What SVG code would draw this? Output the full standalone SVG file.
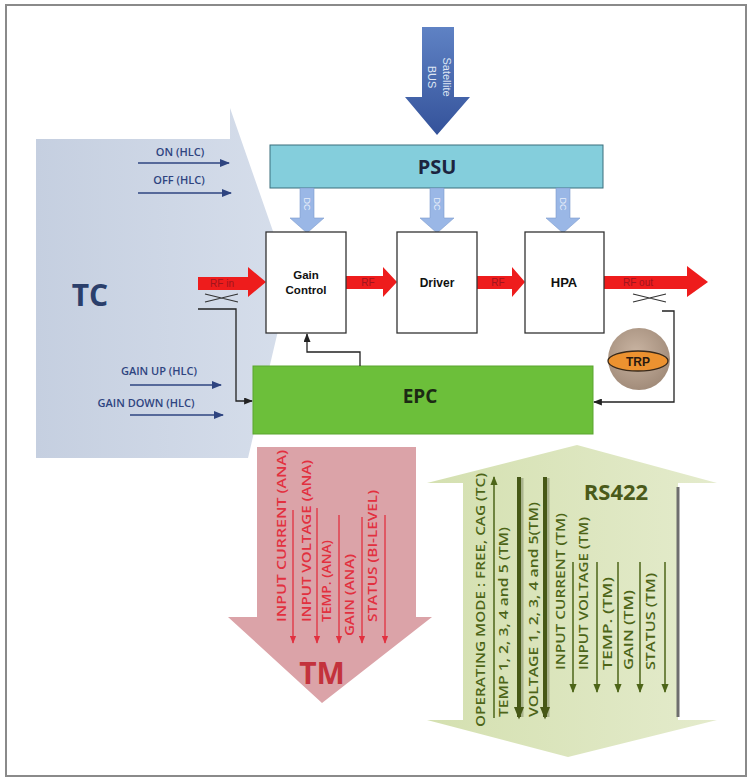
<svg xmlns="http://www.w3.org/2000/svg" width="749" height="782" viewBox="0 0 749 782">
<defs>
<style>
.tc{font-family:"Open Sans","Liberation Sans",sans-serif;font-weight:600;font-size:11px;fill:#2e4480}
.box{fill:#fff;stroke:#333;stroke-width:1.3}
.bl{font-family:"Liberation Sans",Arial,sans-serif;font-weight:bold;fill:#111;text-anchor:middle}
.rf{font-family:"Liberation Sans",Arial,sans-serif;font-size:10px;fill:#a0141c}
.tm{font-family:"Open Sans","Liberation Sans",sans-serif;font-weight:600;font-size:12px;fill:#e2303f}
.rs{font-family:"Open Sans","Liberation Sans",sans-serif;font-weight:600;font-size:12.5px;fill:#4d6518}
.dc{font-family:"Liberation Sans",Arial,sans-serif;font-size:9px;fill:#e8eefa}
.ln{fill:none;stroke:#222;stroke-width:1.3}
.navy{stroke:#2e4480;stroke-width:1.5;fill:none}
.tml{stroke:#e2303f;stroke-width:1.3;fill:none}
.rsl{stroke:#4d6518;stroke-width:1.5;fill:none}
.rsk{stroke:#465816;stroke-width:4;fill:none}
</style>
<marker id="mNavy" viewBox="0 0 10 8" refX="9" refY="4" markerWidth="10" markerHeight="8" markerUnits="userSpaceOnUse" orient="auto"><path d="M0,0 L10,4 L0,8 z" fill="#2e4480"/></marker>
<marker id="mBlk" viewBox="0 0 10 8" refX="9" refY="4" markerWidth="9" markerHeight="7" markerUnits="userSpaceOnUse" orient="auto"><path d="M0,0 L10,4 L0,8 z" fill="#222"/></marker>
<marker id="mRed" viewBox="0 0 10 8" refX="9" refY="4" markerWidth="8" markerHeight="7" markerUnits="userSpaceOnUse" orient="auto"><path d="M0,0 L10,4 L0,8 z" fill="#e2303f"/></marker>
<marker id="mOl" viewBox="0 0 10 8" refX="9" refY="4" markerWidth="9" markerHeight="8" markerUnits="userSpaceOnUse" orient="auto"><path d="M0,0 L10,4 L0,8 z" fill="#4d6518"/></marker>
<marker id="mOlK" viewBox="0 0 10 8" refX="8" refY="4" markerWidth="13" markerHeight="11" markerUnits="userSpaceOnUse" orient="auto"><path d="M0,0 L10,4 L0,8 z" fill="#465816"/></marker>
<linearGradient id="gBus" x1="0" y1="0" x2="0" y2="1"><stop offset="0" stop-color="#5f82c4"/><stop offset="1" stop-color="#34529a"/></linearGradient>
<linearGradient id="gTC" x1="0" y1="0" x2="1" y2="0"><stop offset="0" stop-color="#c5cfe0"/><stop offset="1" stop-color="#d6deeb"/></linearGradient>
<linearGradient id="gRS" x1="0" y1="0" x2="1" y2="0"><stop offset="0" stop-color="#d4e0b0"/><stop offset="1" stop-color="#e4ebcc"/></linearGradient>
<radialGradient id="gTRP" cx="0.45" cy="0.4" r="0.6"><stop offset="0" stop-color="#c9b4a2"/><stop offset="1" stop-color="#a28c7a"/></radialGradient>
</defs>
<rect x="0" y="0" width="749" height="782" fill="#fff"/>
<rect x="6" y="5" width="740" height="771" fill="none" stroke="#8a8a8a" stroke-width="2"/>

<!-- TC big arrow -->
<g id="tc">
<polygon points="36,139 230,139 230,108 290,280 248,458 36,458" fill="url(#gTC)"/>
<text x="90" y="306" font-family="Open Sans,Liberation Sans,sans-serif" font-weight="bold" font-size="30" fill="#2b3f6b" text-anchor="middle">TC</text>
<text class="tc" x="180" y="156" text-anchor="middle">ON (HLC)</text>
<text class="tc" x="179" y="184" text-anchor="middle">OFF (HLC)</text>
<text class="tc" x="159" y="375" text-anchor="middle">GAIN UP (HLC)</text>
<text class="tc" x="146" y="407" text-anchor="middle">GAIN DOWN (HLC)</text>
</g>

<!-- Satellite BUS -->
<g id="bus">
<polygon points="422,27 454,27 454,97 470,97 437,135 405,97 422,97" fill="url(#gBus)"/>
<text x="443" y="77" transform="rotate(90 443 77)" font-family="Liberation Sans,Arial,sans-serif" font-size="11" fill="#dfe6f4" text-anchor="middle">Satellite</text>
<text x="428" y="77" transform="rotate(90 428 77)" font-family="Liberation Sans,Arial,sans-serif" font-size="11" fill="#dfe6f4" text-anchor="middle">BUS</text>
</g>

<!-- PSU -->
<g id="psu">
<rect x="270" y="145" width="333" height="43" fill="#84cedc" stroke="#3b6f7c" stroke-width="1"/>
<text x="437" y="174" font-family="Open Sans,Liberation Sans,sans-serif" font-weight="bold" font-size="20" fill="#1c2440" text-anchor="middle">PSU</text>
</g>

<!-- DC arrows -->
<g id="dc">
<polygon points="300,188 314,188 314,218 324,218 307,233 290,218 300,218" fill="#9ab7e6" stroke="#7d9ccf" stroke-width="0.6"/>
<polygon points="430,188 444,188 444,218 454,218 437,233 420,218 430,218" fill="#9ab7e6" stroke="#7d9ccf" stroke-width="0.6"/>
<polygon points="556,188 570,188 570,218 580,218 563,233 546,218 556,218" fill="#9ab7e6" stroke="#7d9ccf" stroke-width="0.6"/>
<text class="dc" x="304" y="204" transform="rotate(90 304 204)" text-anchor="middle">DC</text>
<text class="dc" x="434" y="204" transform="rotate(90 434 204)" text-anchor="middle">DC</text>
<text class="dc" x="560" y="204" transform="rotate(90 560 204)" text-anchor="middle">DC</text>
</g>

<!-- RF arrows -->
<g id="rf">
<polygon points="198,277 248,277 248,267 266,282 248,297 248,290 198,290" fill="#ee1c1c"/>
<text class="rf" x="222" y="287" text-anchor="middle">RF in</text>
<polygon points="346,276 383,276 383,267 397,282 383,297 383,289 346,289" fill="#ee1c1c"/>
<text class="rf" x="368" y="286" text-anchor="middle">RF</text>
<polygon points="477,276 512,276 512,267 525,282 512,297 512,289 477,289" fill="#ee1c1c"/>
<text class="rf" x="498" y="286" text-anchor="middle">RF</text>
<polygon points="604,276 687,276 687,266 708,282 687,297 687,289 604,289" fill="#ee1c1c"/>
<text class="rf" x="638" y="286" text-anchor="middle">RF out</text>
<path d="M205,294 L238,302 M205,302 L238,294" stroke="#333" stroke-width="1.2" fill="none"/>
<path d="M633,294 L666,302 M633,302 L666,294" stroke="#333" stroke-width="1.2" fill="none"/>
</g>

<!-- blocks -->
<g id="gain-control">
<rect class="box" x="266" y="232" width="80" height="101"/>
<text class="bl" x="306" y="279" font-size="11.5">Gain</text>
<text class="bl" x="306" y="294" font-size="11.5">Control</text>
</g>
<g id="driver">
<rect class="box" x="397" y="232" width="80" height="101"/>
<text class="bl" x="437" y="287" font-size="12">Driver</text>
</g>
<g id="hpa">
<rect class="box" x="525" y="232" width="79" height="101"/>
<text class="bl" x="564" y="287" font-size="13">HPA</text>
</g>
<g id="epc">
<rect x="253" y="366" width="340" height="68" fill="#6cbf3a" stroke="#5aa52e" stroke-width="1"/>
<text x="420" y="403" font-family="Open Sans,Liberation Sans,sans-serif" font-weight="bold" font-size="19" fill="#1c2a14" text-anchor="middle">EPC</text>
</g>
<g id="trp">
<circle cx="639" cy="359" r="31" fill="url(#gTRP)"/>
<ellipse cx="638" cy="361" rx="30" ry="10" fill="#ec9230" stroke="#3a2a1a" stroke-width="1.3"/>
<text x="638" y="366" font-family="Liberation Sans,Arial,sans-serif" font-weight="bold" font-size="12" fill="#2a1a10" text-anchor="middle">TRP</text>
</g>

<!-- connectors -->
<g id="connectors">
<line class="navy" x1="138" y1="163" x2="229" y2="163" marker-end="url(#mNavy)"/>
<line class="navy" x1="138" y1="193" x2="231" y2="193" marker-end="url(#mNavy)"/>
<line class="navy" x1="130" y1="385" x2="221" y2="385" marker-end="url(#mNavy)"/>
<line class="navy" x1="130" y1="415" x2="223" y2="415" marker-end="url(#mNavy)"/>
<polyline class="ln" points="198,309 236,309 236,401 252,401" marker-end="url(#mBlk)"/>
<polyline class="ln" points="360,366 360,352 307,352 307,334" marker-end="url(#mBlk)"/>
<polyline class="ln" points="662,311 674,311 674,402 594,402" marker-end="url(#mBlk)"/>
</g>

<!-- TM arrow -->
<g id="tm">
<polygon points="257,447 416,447 416,617 432,617 322,703 228,617 257,617" fill="#dba3a8"/>
<text class="tm" transform="translate(286,622) rotate(-90)" textLength="172" lengthAdjust="spacingAndGlyphs">INPUT CURRENT (ANA)</text>
<text class="tm" transform="translate(311,622) rotate(-90)" textLength="162" lengthAdjust="spacingAndGlyphs">INPUT VOLTAGE (ANA)</text>
<text class="tm" transform="translate(331,622) rotate(-90)" textLength="82" lengthAdjust="spacingAndGlyphs">TEMP. (ANA)</text>
<text class="tm" transform="translate(354,636) rotate(-90)" textLength="82" lengthAdjust="spacingAndGlyphs">GAIN (ANA)</text>
<text class="tm" transform="translate(377,622) rotate(-90)" textLength="132" lengthAdjust="spacingAndGlyphs">STATUS (BI-LEVEL)</text>
<line class="tml" x1="293" y1="510" x2="293" y2="643" marker-end="url(#mRed)"/>
<line class="tml" x1="317" y1="508" x2="317" y2="643" marker-end="url(#mRed)"/>
<line class="tml" x1="339" y1="515" x2="339" y2="643" marker-end="url(#mRed)"/>
<line class="tml" x1="362" y1="517" x2="362" y2="643" marker-end="url(#mRed)"/>
<line class="tml" x1="385" y1="515" x2="385" y2="643" marker-end="url(#mRed)"/>
<text x="322" y="684" font-family="Open Sans,Liberation Sans,sans-serif" font-weight="bold" font-size="30" fill="#c3323c" text-anchor="middle">TM</text>
</g>

<!-- RS422 double arrow -->
<g id="rs422">
<polygon points="427,483 577,445 717,483 678,483 678,720 717,720 568,757 427,720 463,720 463,483" fill="url(#gRS)"/>
<line x1="678" y1="487" x2="678" y2="717" stroke="#6e6e6e" stroke-width="3"/>
<text x="616" y="500" font-family="Open Sans,Liberation Sans,sans-serif" font-weight="bold" font-size="22" fill="#4a5a1a" text-anchor="middle">RS422</text>
<text class="rs" transform="translate(485,727) rotate(-90)" textLength="254" lengthAdjust="spacingAndGlyphs">OPERATING MODE : FREE, CAG (TC)</text>
<text class="rs" transform="translate(508,717) rotate(-90)" textLength="190" lengthAdjust="spacingAndGlyphs">TEMP 1, 2, 3, 4 and 5 (TM)</text>
<text class="rs" transform="translate(538,717) rotate(-90)" textLength="215" lengthAdjust="spacingAndGlyphs">VOLTAGE 1, 2, 3, 4 and 5(TM)</text>
<text class="rs" transform="translate(565,670) rotate(-90)" textLength="157" lengthAdjust="spacingAndGlyphs">INPUT CURRENT (TM)</text>
<text class="rs" transform="translate(588,670) rotate(-90)" textLength="153" lengthAdjust="spacingAndGlyphs">INPUT VOLTAGE (TM)</text>
<text class="rs" transform="translate(612,670) rotate(-90)" textLength="93" lengthAdjust="spacingAndGlyphs">TEMP. (TM)</text>
<text class="rs" transform="translate(633,670) rotate(-90)" textLength="80" lengthAdjust="spacingAndGlyphs">GAIN (TM)</text>
<text class="rs" transform="translate(655,670) rotate(-90)" textLength="97" lengthAdjust="spacingAndGlyphs">STATUS (TM)</text>
<line class="rsl" x1="494" y1="718" x2="494" y2="477" marker-end="url(#mOl)"/>
<line x1="522" y1="478" x2="522" y2="717" stroke="#8a9470" stroke-width="3" opacity="0.6"/>
<line x1="548" y1="478" x2="548" y2="717" stroke="#8a9470" stroke-width="3" opacity="0.6"/>
<line class="rsk" x1="519" y1="477" x2="519" y2="717" marker-end="url(#mOlK)"/>
<line class="rsk" x1="545" y1="477" x2="545" y2="717" marker-end="url(#mOlK)"/>
<line class="rsl" x1="573" y1="562" x2="573" y2="692" marker-end="url(#mOl)"/>
<line class="rsl" x1="597" y1="562" x2="597" y2="692" marker-end="url(#mOl)"/>
<line class="rsl" x1="618" y1="562" x2="618" y2="692" marker-end="url(#mOl)"/>
<line class="rsl" x1="640" y1="562" x2="640" y2="692" marker-end="url(#mOl)"/>
<line class="rsl" x1="665" y1="562" x2="665" y2="692" marker-end="url(#mOl)"/>
</g>
</svg>
